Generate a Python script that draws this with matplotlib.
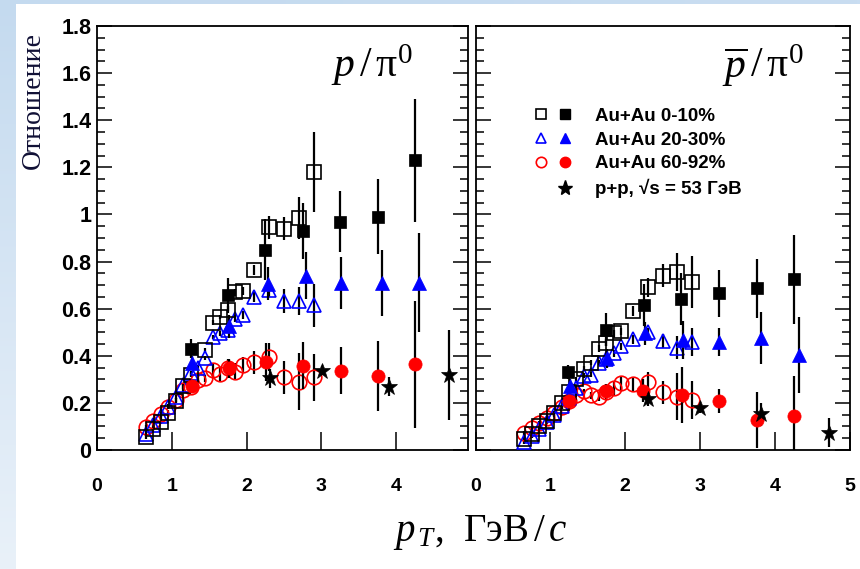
import numpy as np
import matplotlib
matplotlib.use("Agg")
import matplotlib.pyplot as plt
from matplotlib.lines import Line2D
from matplotlib.legend_handler import HandlerTuple
from matplotlib.ticker import FixedLocator, FixedFormatter, MultipleLocator
from matplotlib.colors import LinearSegmentedColormap

# ---------------- data ----------------
# p / pi0  (left panel)
L_open_sq_pt = [0.65, 0.75, 0.85, 0.95, 1.05, 1.15, 1.25, 1.45, 1.55, 1.65, 1.75, 1.85, 1.95, 2.1, 2.3, 2.5, 2.7, 2.9]
L_open_sq_r = [0.057, 0.088, 0.12, 0.158, 0.21, 0.27, 0.32, 0.425, 0.54, 0.565, 0.595, 0.67, 0.675, 0.765, 0.945, 0.94, 0.985, 1.18]
L_open_sq_e = [0.01, 0.01, 0.01, 0.01, 0.01, 0.01, 0.01, 0.01, 0.01, 0.01, 0.015, 0.015, 0.015, 0.02, 0.05, 0.05, 0.09, 0.17]

L_open_tri_pt = [0.65, 0.75, 0.85, 0.95, 1.05, 1.15, 1.25, 1.35, 1.45, 1.55, 1.65, 1.75, 1.85, 1.95, 2.1, 2.3, 2.5, 2.7, 2.9]
L_open_tri_r = [0.07, 0.105, 0.143, 0.183, 0.225, 0.275, 0.325, 0.35, 0.39, 0.48, 0.495, 0.51, 0.558, 0.573, 0.65, 0.68, 0.633, 0.633, 0.614]
L_open_tri_e = [0.01, 0.01, 0.01, 0.01, 0.01, 0.01, 0.01, 0.01, 0.01, 0.01, 0.01, 0.015, 0.015, 0.015, 0.02, 0.03, 0.05, 0.06, 0.09]

L_open_ci_pt = [0.65, 0.75, 0.85, 0.95, 1.05, 1.15, 1.25, 1.35, 1.45, 1.55, 1.65, 1.75, 1.85, 1.95, 2.1, 2.3, 2.5, 2.7, 2.9]
L_open_ci_r = [0.096, 0.123, 0.151, 0.184, 0.212, 0.255, 0.269, 0.297, 0.304, 0.34, 0.323, 0.347, 0.333, 0.361, 0.372, 0.396, 0.308, 0.29, 0.308]
L_open_ci_e = [0.01, 0.01, 0.01, 0.01, 0.01, 0.01, 0.01, 0.01, 0.015, 0.03, 0.03, 0.04, 0.035, 0.035, 0.05, 0.06, 0.07, 0.12, 0.1]

L_sq_pt = [1.25, 1.75, 2.25, 2.75, 3.25, 3.75, 4.25]
L_sq_r = [0.43, 0.66, 0.85, 0.93, 0.97, 0.99, 1.23]
L_sq_e = [0.04, 0.07, 0.13, 0.12, 0.13, 0.16, 0.26]

L_tri_pt = [1.27, 1.77, 2.28, 2.80, 3.26, 3.81, 4.31]
L_tri_r = [0.37, 0.525, 0.705, 0.74, 0.71, 0.71, 0.71]
L_tri_e = [0.03, 0.05, 0.07, 0.1, 0.11, 0.14, 0.21]

L_ci_pt = [1.27, 1.77, 2.26, 2.76, 3.26, 3.75, 4.25]
L_ci_r = [0.27, 0.347, 0.375, 0.358, 0.337, 0.314, 0.364]
L_ci_e = [0.02, 0.04, 0.08, 0.1, 0.1, 0.15, 0.27]

L_star_pt = [2.31, 3.01, 3.9, 4.7]
L_star_r = [0.304, 0.337, 0.269, 0.318]
L_star_e = [0.04, 0.02, 0.04, 0.19]

# pbar / pi0  (right panel)
R_open_sq_pt = [0.65, 0.75, 0.85, 0.95, 1.05, 1.15, 1.25, 1.35, 1.45, 1.55, 1.65, 1.75, 1.85, 1.95, 2.1, 2.3, 2.5, 2.7, 2.9]
R_open_sq_r = [0.045, 0.07, 0.1, 0.125, 0.155, 0.2, 0.245, 0.3, 0.345, 0.37, 0.43, 0.455, 0.495, 0.505, 0.59, 0.69, 0.74, 0.757, 0.712]
R_open_sq_e = [0.01, 0.01, 0.01, 0.01, 0.01, 0.01, 0.01, 0.01, 0.01, 0.01, 0.015, 0.015, 0.015, 0.015, 0.02, 0.04, 0.05, 0.08, 0.11]

R_open_tri_pt = [0.65, 0.75, 0.85, 0.95, 1.05, 1.15, 1.25, 1.35, 1.45, 1.55, 1.65, 1.75, 1.85, 1.95, 2.1, 2.3, 2.5, 2.7, 2.9]
R_open_tri_r = [0.035, 0.06, 0.09, 0.12, 0.15, 0.185, 0.22, 0.265, 0.315, 0.32, 0.37, 0.385, 0.41, 0.44, 0.47, 0.5, 0.463, 0.435, 0.46]
R_open_tri_e = [0.01, 0.01, 0.01, 0.01, 0.01, 0.01, 0.01, 0.01, 0.01, 0.01, 0.01, 0.01, 0.015, 0.015, 0.02, 0.02, 0.03, 0.05, 0.06]

R_open_ci_pt = [0.65, 0.75, 0.85, 0.95, 1.05, 1.15, 1.25, 1.35, 1.45, 1.55, 1.65, 1.75, 1.85, 1.95, 2.1, 2.3, 2.5, 2.7, 2.9]
R_open_ci_r = [0.071, 0.092, 0.113, 0.134, 0.156, 0.184, 0.209, 0.233, 0.25, 0.233, 0.226, 0.248, 0.262, 0.283, 0.28, 0.29, 0.245, 0.226, 0.212]
R_open_ci_e = [0.01, 0.01, 0.01, 0.01, 0.01, 0.01, 0.01, 0.01, 0.01, 0.015, 0.02, 0.03, 0.03, 0.03, 0.03, 0.04, 0.05, 0.1, 0.08]

R_sq_pt = [1.24, 1.75, 2.25, 2.75, 3.26, 3.76, 4.26]
R_sq_r = [0.332, 0.51, 0.615, 0.64, 0.665, 0.686, 0.724]
R_sq_e = [0.03, 0.07, 0.09, 0.11, 0.1, 0.125, 0.19]

R_tri_pt = [1.26, 1.76, 2.26, 2.77, 3.26, 3.82, 4.32]
R_tri_r = [0.27, 0.39, 0.495, 0.467, 0.46, 0.474, 0.403]
R_tri_e = [0.03, 0.04, 0.05, 0.08, 0.06, 0.11, 0.16]

R_ci_pt = [1.25, 1.75, 2.24, 2.76, 3.26, 3.76, 4.26]
R_ci_r = [0.208, 0.252, 0.252, 0.233, 0.208, 0.127, 0.146]
R_ci_e = [0.02, 0.03, 0.05, 0.12, 0.05, 0.12, 0.17]

R_star_pt = [2.30, 3.0, 3.82, 4.72]
R_star_r = [0.215, 0.177, 0.151, 0.074]
R_star_e = [0.03, 0.02, 0.05, 0.06]

ytick_vals = [0, 0.2, 0.4, 0.6, 0.8, 1.0, 1.2, 1.4, 1.6, 1.8]
ytick_labels = ['0', '0.2', '0.4', '0.6', '0.8', '1', '1.2', '1.4', '1.6', '1.8']
xtick_left = [0, 1, 2, 3, 4]
xtick_right = [0, 1, 2, 3, 4, 5]
legend_labels = ['Au+Au 0-10%', 'Au+Au 20-30%', 'Au+Au 60-92%', 'p+p, √s = 53 ГэВ']

# ---------------- style ----------------
plt.rcParams['mathtext.fontset'] = 'custom'
plt.rcParams['mathtext.rm'] = 'Liberation Serif'
plt.rcParams['mathtext.it'] = 'Liberation Serif:italic'
plt.rcParams['mathtext.bf'] = 'Liberation Sans:bold'

W, H = 860, 569
fig = plt.figure(figsize=(W / 100, H / 100), dpi=100, facecolor='white')

# slide background strips
bg = fig.add_axes([0, 0, 16 / W, 1])
grad = np.linspace(0, 1, 256).reshape(-1, 1)
cm = LinearSegmentedColormap.from_list('bg', ['#c4daef', '#e9f1f9'])
bg.imshow(grad, aspect='auto', cmap=cm, extent=[0, 1, 0, 1], origin='upper')
bg.axis('off')
top = fig.add_axes([0, 1 - 4 / H, 1, 4 / H])
top.imshow(np.linspace(0, 1, 256).reshape(1, -1), aspect='auto',
           cmap=LinearSegmentedColormap.from_list('bg2', ['#c4daef', '#c9ddf1']), extent=[0, 1, 0, 1])
top.axis('off')

y0 = 1 - 450 / H
hgt = (450 - 26) / H
axL = fig.add_axes([97 / W, y0, (468 - 97) / W, hgt])
axR = fig.add_axes([475.5 / W, y0, (849.5 - 475.5) / W, hgt])

blue = '#0000ff'
red = '#ff0000'
tickfont = dict(family='Liberation Sans', weight='bold', size=14)


def series(ax, x, y, e, marker, color, filled, size, z=3):
    ax.errorbar(x, y, yerr=e, fmt='none', ecolor='black', elinewidth=1.6, capsize=0, zorder=z - 1)
    ax.plot(x, y, linestyle='none', marker=marker, markersize=size,
            markerfacecolor=color if filled else 'none', markeredgecolor=color,
            markeredgewidth=1.2 if not filled else 0.5, zorder=z, clip_on=True)


def draw(ax, d):
    series(ax, d[0][0], d[0][1], d[0][2], 'o', red, False, 10.5)
    series(ax, d[1][0], d[1][1], d[1][2], '^', blue, False, 10.5)
    series(ax, d[2][0], d[2][1], d[2][2], 's', 'black', False, 9.5)
    series(ax, d[3][0], d[3][1], d[3][2], 'o', red, True, 9.5, 5)
    series(ax, d[4][0], d[4][1], d[4][2], '^', blue, True, 10.5, 5)
    series(ax, d[5][0], d[5][1], d[5][2], 's', 'black', True, 9, 5)
    series(ax, d[6][0], d[6][1], d[6][2], '*', 'black', True, 12, 5)


draw(axL, [(L_open_ci_pt, L_open_ci_r, L_open_ci_e), (L_open_tri_pt, L_open_tri_r, L_open_tri_e),
           (L_open_sq_pt, L_open_sq_r, L_open_sq_e), (L_ci_pt, L_ci_r, L_ci_e),
           (L_tri_pt, L_tri_r, L_tri_e), (L_sq_pt, L_sq_r, L_sq_e), (L_star_pt, L_star_r, L_star_e)])
draw(axR, [(R_open_ci_pt, R_open_ci_r, R_open_ci_e), (R_open_tri_pt, R_open_tri_r, R_open_tri_e),
           (R_open_sq_pt, R_open_sq_r, R_open_sq_e), (R_ci_pt, R_ci_r, R_ci_e),
           (R_tri_pt, R_tri_r, R_tri_e), (R_sq_pt, R_sq_r, R_sq_e), (R_star_pt, R_star_r, R_star_e)])

for ax, xt, xmax in [(axL, xtick_left, (468 - 97) / 74.8), (axR, xtick_right, 5.0)]:
    ax.set_xlim(0, xmax)
    ax.set_ylim(0, 1.8)
    ax.xaxis.set_major_locator(FixedLocator(xt))
    ax.set_xticklabels([str(v) for v in xt], **tickfont)
    ax.yaxis.set_major_locator(FixedLocator(ytick_vals))
    ax.yaxis.set_minor_locator(MultipleLocator(0.05))
    ax.tick_params(axis='y', which='both', direction='in', left=True, right=True, width=1.1)
    ax.tick_params(axis='y', which='major', length=11)
    ax.tick_params(axis='y', which='minor', length=6)
    ax.tick_params(axis='x', which='major', direction='in', length=13, width=1.1, pad=20, top=False)
    for s in ax.spines.values():
        s.set_linewidth(1.3)

axL.yaxis.set_major_formatter(FixedFormatter(ytick_labels))
for lab in axL.get_yticklabels():
    lab.set_fontfamily('Liberation Sans')
    lab.set_fontweight('bold')
    lab.set_fontsize(15.5)
axL.tick_params(axis='y', which='major', pad=4)
axR.tick_params(axis='y', which='both', labelleft=False)

# panel titles
axL.text(0.63, 0.962, r"$p\,/\,\mathrm{\pi}^0$", transform=axL.transAxes, fontsize=30,
         color='black', ha='left', va='top')
axR.text(0.66, 0.962, r"$\overline{p}\,/\,\mathrm{\pi}^0$", transform=axR.transAxes, fontsize=30,
         color='black', ha='left', va='top')

# legend
h_open_sq = Line2D([], [], ls='none', marker='s', ms=7, mfc='none', mec='black', mew=1.2)
h_sq = Line2D([], [], ls='none', marker='s', ms=7, mfc='black', mec='black')
h_open_tri = Line2D([], [], ls='none', marker='^', ms=7.5, mfc='none', mec=blue, mew=1.2)
h_tri = Line2D([], [], ls='none', marker='^', ms=7.5, mfc=blue, mec=blue)
h_open_ci = Line2D([], [], ls='none', marker='o', ms=7.5, mfc='none', mec=red, mew=1.2)
h_ci = Line2D([], [], ls='none', marker='o', ms=7.5, mfc=red, mec=red)
h_blank = Line2D([], [], ls='none', marker='none')
h_star = Line2D([], [], ls='none', marker='*', ms=11, mfc='black', mec='black')
leg = axR.legend([(h_open_sq, h_sq), (h_open_tri, h_tri), (h_open_ci, h_ci), (h_blank, h_star)],
                 legend_labels, handler_map={tuple: HandlerTuple(ndivide=None, pad=0.25)},
                 loc='upper left', bbox_to_anchor=(0.148, 0.807), frameon=False,
                 borderpad=0, borderaxespad=0, handlelength=2.31, handletextpad=1.1,
                 labelspacing=0.35, prop=dict(family='Liberation Sans', weight='bold', size=13.5))

# axis labels
fig.text(33 / W, 1 - 101 / H, "Отношение", rotation=90, ha='center', va='center',
         family='Liberation Serif', fontsize=20, color='#101035')
fig.text(480 / W, 1 - 533 / H, r"$p_{\,T}$,  ГэВ$\,/\,c$", ha='center', va='center',
         family='Liberation Serif', fontsize=28, color='black')

fig.savefig('out.png', dpi=100, facecolor='white')
